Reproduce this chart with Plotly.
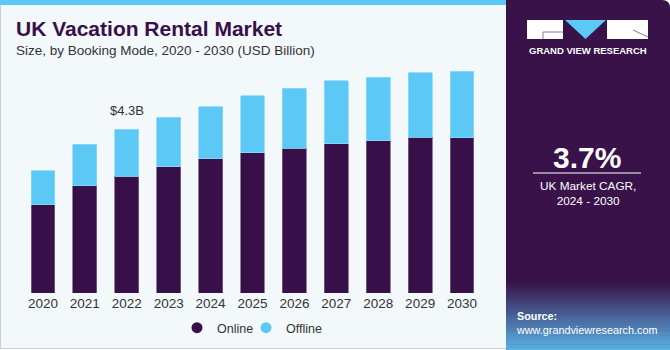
import plotly.graph_objects as go

years = ["2020", "2021", "2022", "2023", "2024", "2025", "2026", "2027", "2028", "2029", "2030"]
online = [2.31, 2.81, 3.06, 3.31, 3.52, 3.68, 3.79, 3.91, 3.99, 4.09, 4.07]
offline = [0.89, 1.09, 1.24, 1.30, 1.36, 1.49, 1.58, 1.65, 1.67, 1.69, 1.75]
label_year = "2022"
label_text = "$4.3B"

W, H = 670, 350
L, R, T, B = 22, 187, 60, 57
PW, PH = W - L - R, H - T - B

def px(x):
    return (x - L) / PW

def py(y):
    return 1 - (y - T) / PH

ONLINE_C = "#381049"
OFFLINE_C = "#5bc8f5"
PANEL_C = "#381249"
FONT = "Liberation Sans"

fig = go.Figure()
fig.add_trace(go.Bar(x=years, y=online, name="Online", showlegend=False,
                     marker=dict(color=ONLINE_C, line=dict(color="#7a5f88", width=0.8))))
fig.add_trace(go.Bar(x=years, y=offline, name="Offline", showlegend=False,
                     marker=dict(color=OFFLINE_C, line=dict(color="#8fd8f8", width=0.8))))
# legend entries with circle symbols
fig.add_trace(go.Scatter(x=[None], y=[None], mode="markers", name="Online",
                         marker=dict(symbol="circle", size=11, color=ONLINE_C)))
fig.add_trace(go.Scatter(x=[None], y=[None], mode="markers", name="Offline",
                         marker=dict(symbol="circle", size=11, color=OFFLINE_C)))
# invisible spacer entry so the last legend label is not clipped
fig.add_trace(go.Scatter(x=[None], y=[None], mode="markers", name=" ",
                         marker=dict(symbol="circle", size=1, color="rgba(0,0,0,0)")))

shapes = []
shapes.append(dict(type="rect", xref="paper", yref="paper", x0=px(0.5), x1=px(520), y0=py(348.5), y1=py(2),
                   fillcolor="#f3f8fb", line=dict(color="#c9cfd3", width=1.2), layer="below"))
shapes.append(dict(type="rect", xref="paper", yref="paper", x0=px(0), x1=px(506), y0=py(5), y1=py(0),
                   fillcolor="#5bc8f5", line=dict(width=0), layer="below"))
shapes.append(dict(type="path", xref="paper", yref="paper",
                   path="M {a},{b} L {c},{b} Q {d},{b} {d},{e} L {d},{f} L {a},{f} Z".format(
                       a=px(506), b=py(0), c=px(662), d=px(670), e=py(8), f=py(350)),
                   fillcolor=PANEL_C, line=dict(width=0), layer="below"))
n = 24
y_start, y_end = 282, 350
c0 = (0x38, 0x12, 0x49)
c1 = (0x5a, 0xb4, 0xe6)
for i in range(n):
    t = (i + 0.5) / n
    col = tuple(int(c0[k] + (c1[k] - c0[k]) * t) for k in range(3))
    ya = y_start + (y_end - y_start) * i / n
    yb = y_start + (y_end - y_start) * (i + 1) / n
    shapes.append(dict(type="rect", xref="paper", yref="paper", x0=px(506), x1=px(670), y0=py(yb + 0.5), y1=py(ya),
                       fillcolor="rgb(%d,%d,%d)" % col, line=dict(width=0), layer="below"))
# logo
shapes.append(dict(type="rect", xref="paper", yref="paper", x0=px(527), x1=px(563), y0=py(39), y1=py(20),
                   fillcolor="white", line=dict(width=0)))
shapes.append(dict(type="line", xref="paper", yref="paper", x0=px(543), x1=px(563), y0=py(32), y1=py(32),
                   line=dict(color="#8a7a96", width=1)))
shapes.append(dict(type="line", xref="paper", yref="paper", x0=px(543), x1=px(543), y0=py(32), y1=py(39),
                   line=dict(color="#8a7a96", width=1)))
shapes.append(dict(type="path", xref="paper", yref="paper",
                   path="M {a},{b} L {c},{b} L {d},{e} Z".format(a=px(565), c=px(606), b=py(20), d=px(585.5), e=py(39)),
                   fillcolor="#5bc8f5", line=dict(width=0)))
shapes.append(dict(type="rect", xref="paper", yref="paper", x0=px(607), x1=px(648), y0=py(39), y1=py(20),
                   fillcolor="white", line=dict(width=0)))
shapes.append(dict(type="line", xref="paper", yref="paper", x0=px(633), x1=px(648), y0=py(30), y1=py(37),
                   line=dict(color="#8a7a96", width=1)))
shapes.append(dict(type="line", xref="paper", yref="paper", x0=px(533), x1=px(641), y0=py(173), y1=py(173),
                   line=dict(color="white", width=1.2)))

li = years.index(label_year)
annotations = [
    dict(text="<b>UK Vacation Rental Market</b>", x=px(14), y=py(29), xref="paper", yref="paper",
         xanchor="left", yanchor="middle", showarrow=False, font=dict(family=FONT, size=21, color=ONLINE_C)),
    dict(text="Size, by Booking Mode, 2020 - 2030 (USD Billion)", x=px(14), y=py(50), xref="paper", yref="paper",
         xanchor="left", yanchor="middle", showarrow=False, font=dict(family=FONT, size=13.5, color="#333333")),
    dict(text=label_text, x=li, y=online[li] + offline[li],
         xref="x", yref="y", yanchor="bottom", yshift=9, showarrow=False,
         font=dict(family=FONT, size=13, color="#333333")),
    dict(text="<b>GRAND VIEW RESEARCH</b>", x=px(587.5), y=py(51), xref="paper", yref="paper",
         xanchor="center", yanchor="middle", showarrow=False, font=dict(family=FONT, size=9.5, color="white")),
    dict(text="<b>3.7%</b>", x=px(587), y=py(157), xref="paper", yref="paper",
         xanchor="center", yanchor="middle", showarrow=False, font=dict(family=FONT, size=30, color="white")),
    dict(text="UK Market CAGR,<br>2024 - 2030", x=px(588), y=py(193), xref="paper", yref="paper",
         xanchor="center", yanchor="middle", showarrow=False, align="center",
         font=dict(family=FONT, size=11.8, color="white")),
    dict(text="<b>Source:</b><br>www.grandviewresearch.com", x=px(514), y=py(323), xref="paper", yref="paper",
         xanchor="left", yanchor="middle", showarrow=False, align="left",
         font=dict(family=FONT, size=10.8, color="white")),
]

fig.update_layout(
    width=W, height=H,
    margin=dict(l=L, r=R, t=T, b=B, autoexpand=False),
    barmode="stack", bargap=0.43,
    paper_bgcolor="white", plot_bgcolor="rgba(0,0,0,0)",
    showlegend=True,
    legend=dict(orientation="h", x=px(177), y=py(328), xanchor="left", yanchor="middle",
                font=dict(family=FONT, size=12.5, color="#333333"), bgcolor="rgba(0,0,0,0)",
                traceorder="normal", entrywidth=24, itemwidth=30),
    xaxis=dict(type="category", showgrid=False, showline=False, ticks="",
               tickfont=dict(family=FONT, size=13.5, color="#333333"), fixedrange=True,
               range=[-0.5, len(years) - 0.5]),
    yaxis=dict(visible=False, range=[0, PH / 38.14], fixedrange=True),
    shapes=shapes,
    annotations=annotations,
    font=dict(family=FONT),
)

fig.write_html("out.html")
